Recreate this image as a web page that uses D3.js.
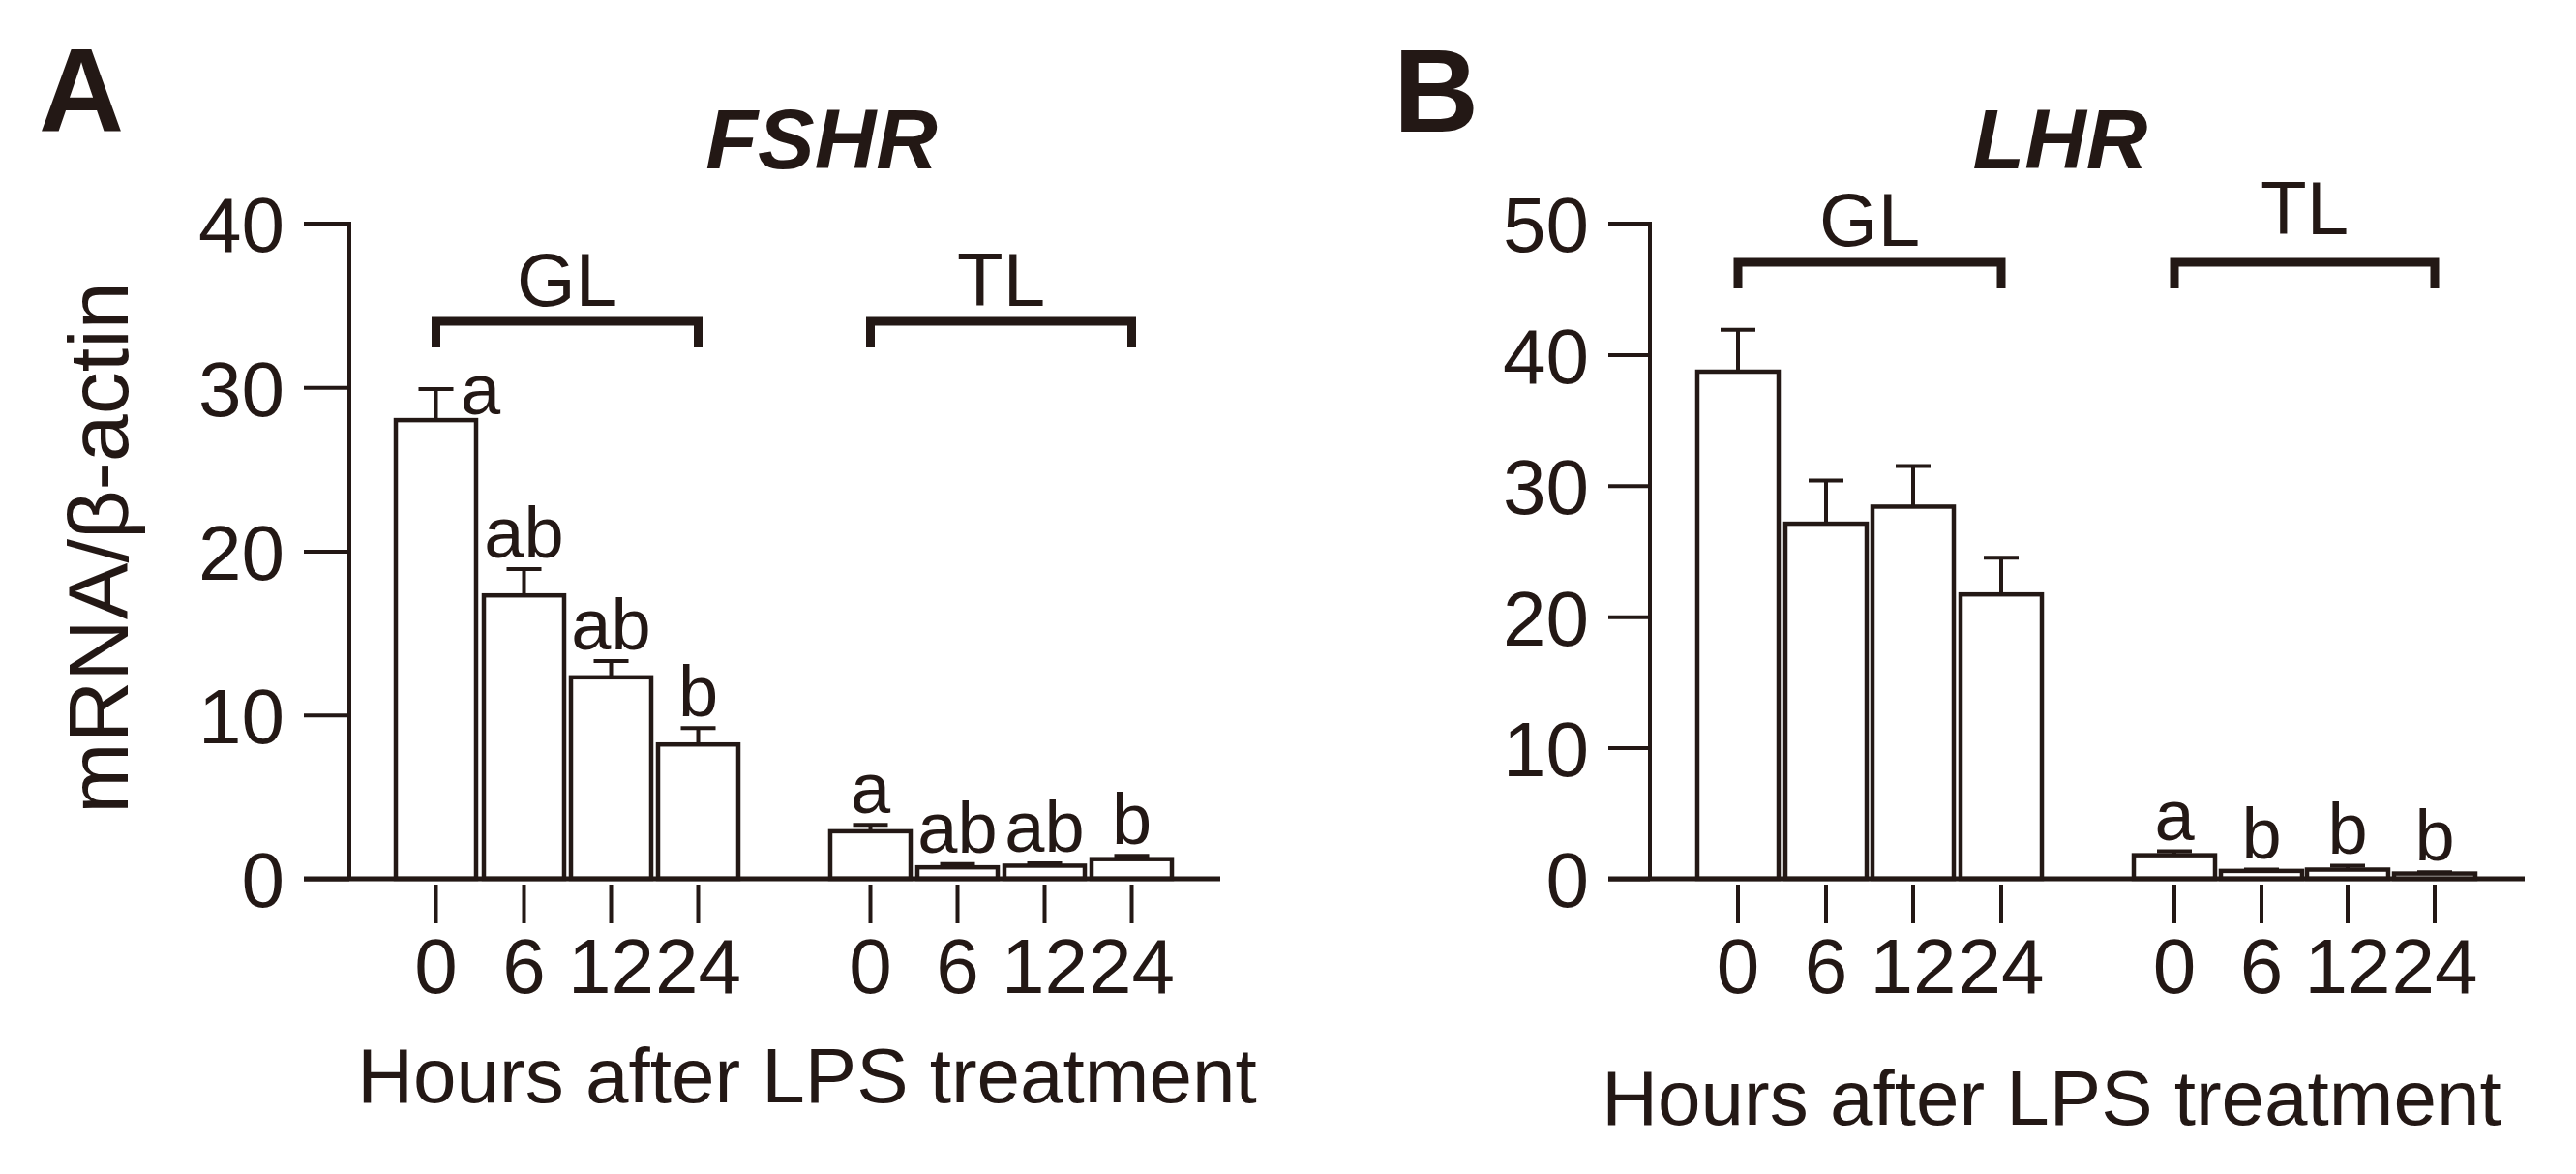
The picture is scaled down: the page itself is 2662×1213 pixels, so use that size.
<!DOCTYPE html>
<html><head><meta charset="utf-8">
<script src="https://cdn.jsdelivr.net/npm/d3@7"></script>
<style>body{margin:0;background:#fff}text{font-family:"Liberation Sans",Arial,sans-serif;fill:#231815}</style>
</head><body><svg id="chart" width="2662" height="1213"></svg>
<script>
var hours = ["0", "6", "12", "24"];
var groups = ["GL", "TL"];
// FSHR
var fshrMean = [28, 17.3, 12.3, 8.2, 2.9, 0.7, 0.8, 1.2];
var fshrErr = [1.9, 1.6, 1.0, 1.0, 0.4, 0.2, 0.15, 0.2];
var fshrLetters = ["a", "ab", "ab", "b", "a", "ab", "ab", "b"];
var fshrTicks = [0, 10, 20, 30, 40];
// LHR
var lhrMean = [38.7, 27.1, 28.4, 21.7, 1.8, 0.6, 0.7, 0.4];
var lhrErr = [3.2, 3.3, 3.1, 2.8, 0.3, 0.1, 0.3, 0.1];
var lhrLetters = ["", "", "", "", "a", "b", "b", "b"];
var lhrTicks = [0, 10, 20, 30, 40, 50];

var svg = d3.select("#chart");
var ink = "#231815";

function drawPanel(p) {
    var g = svg.append("g");
    var y = d3.scaleLinear().domain([0, p.max]).range([908, 231]);
    var bands = p.barX;
    var w = p.barW;

    g.append("text").attr("x", p.letterX).attr("y", 136).attr("font-size", 122)
        .attr("font-weight", "bold").text(p.letter);
    g.append("text").attr("x", p.titleX).attr("y", 174).attr("font-size", 88)
        .attr("font-weight", "bold").attr("font-style", "italic").attr("text-anchor", "middle").text(p.title);

    /* y axis */
    var yAxis = d3.axisLeft(y).tickValues(p.ticks).tickSize(p.axisX - p.tickStart).tickPadding(20);
    var ya = g.append("g").attr("transform", "translate(" + p.axisX + ",0)").call(yAxis);
    ya.select(".domain").attr("stroke", ink).attr("stroke-width", 4).attr("d", "M" + (p.tickStart - p.axisX) + "," + y(p.max) + "H0V" + y(0));
    ya.selectAll(".tick line").attr("stroke", ink).attr("stroke-width", 4);
    ya.selectAll(".tick text").attr("font-size", 80).attr("fill", ink).attr("dy", "0.36em");

    /* bars */
    var data = p.mean.map(function (m, i) { return {m: m, e: p.err[i], l: p.letters[i], x: bands[i]}; });
    var bar = g.selectAll(".bar").data(data).enter().append("g");
    bar.append("path").attr("fill", "none").attr("stroke", ink).attr("stroke-width", 4)
        .attr("d", function (d) {
            var c = d.x + w / 2;
            return "M" + c + "," + y(d.m) + "V" + y(d.m + d.e) + "M" + (c - 18) + "," + y(d.m + d.e) + "H" + (c + 18);
        });
    bar.append("rect").attr("x", function (d) { return d.x; }).attr("width", w)
        .attr("y", function (d) { return y(d.m); })
        .attr("height", function (d) { return y(0) - y(d.m); })
        .attr("fill", "#fff").attr("stroke", ink).attr("stroke-width", 4.5);
    bar.append("text").attr("font-size", 74).attr("text-anchor", "middle")
        .attr("x", function (d, i) { return d.x + w / 2 + (i == 0 && p.letter == "A" ? 46 : 0); })
        .attr("y", function (d, i) { return (i == 0 && p.letter == "A") ? y(d.m + d.e) + 26 : y(d.m + d.e) - 12; })
        .text(function (d) { return d.l; });

    /* x axis */
    g.append("line").attr("x1", p.tickStart).attr("x2", p.axisEnd).attr("y1", y(0)).attr("y2", y(0))
        .attr("stroke", ink).attr("stroke-width", 5);
    data.forEach(function (d, i) {
        var c = d.x + w / 2;
        g.append("line").attr("x1", c).attr("x2", c).attr("y1", 914).attr("y2", 954)
            .attr("stroke", ink).attr("stroke-width", 4);
        g.append("text").attr("x", c).attr("y", 1026).attr("font-size", 80).attr("text-anchor", "middle")
            .text(hours[i % 4]);
    });

    /* group brackets */
    groups.forEach(function (gr, k) {
        var x0 = bands[k * 4] + w / 2, x1 = bands[k * 4 + 3] + w / 2;
        var by = p.bracketY[k];
        g.append("path").attr("fill", "none").attr("stroke", ink).attr("stroke-width", 9)
            .attr("d", "M" + x0 + "," + (by + 27) + "V" + by + "H" + x1 + "V" + (by + 27));
        g.append("text").attr("x", (x0 + x1) / 2).attr("y", p.groupLabelY[k]).attr("font-size", 78)
            .attr("text-anchor", "middle").text(gr);
    });

    g.append("text").attr("x", p.xTitleX).attr("y", p.xTitleY).attr("font-size", 80)
        .attr("text-anchor", "middle").text("Hours after LPS treatment");
}

drawPanel({letter: "A", letterX: 40, title: "FSHR", titleX: 849, max: 40, ticks: fshrTicks,
    mean: fshrMean, err: fshrErr, letters: fshrLetters,
    axisX: 361, tickStart: 314, axisEnd: 1261, barW: 83,
    barX: [409, 500, 590, 680, 858, 948, 1038, 1128],
    bracketY: [332, 332], groupLabelY: [316, 316], xTitleX: 834, xTitleY: 1139});
drawPanel({letter: "B", letterX: 1440, title: "LHR", titleX: 2129, max: 50, ticks: lhrTicks,
    mean: lhrMean, err: lhrErr, letters: lhrLetters,
    axisX: 1705, tickStart: 1662, axisEnd: 2609, barW: 84,
    barX: [1754, 1845, 1935, 2026, 2205, 2295, 2384, 2474],
    bracketY: [271, 271], groupLabelY: [254, 242], xTitleX: 2120, xTitleY: 1162});

/* y label */
svg.append("text").attr("transform", "translate(132,566) rotate(-90)").attr("font-size", 88)
    .attr("text-anchor", "middle").text("mRNA/β-actin");
</script></body></html>
